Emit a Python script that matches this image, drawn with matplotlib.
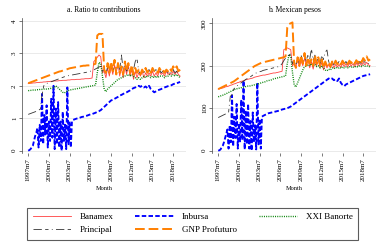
import numpy as np
import matplotlib
matplotlib.use('Agg')
import matplotlib.pyplot as plt

plt.rcParams['font.family'] = ['Liberation Serif', 'DejaVu Serif']

# quarterly grid 1997m7 .. 2019m7 (decimal years)
quarters = np.arange(1997.5, 2019.51, 0.25)
# Inbursa: bimonthly until 2003, quarterly afterwards
inb_t = np.concatenate([np.arange(1997.5, 2003.9, 1 / 6), np.arange(2004.0, 2019.51, 0.25)])

tick_years = [1997.5, 2000.5, 2003.5, 2006.5, 2009.5, 2012.5, 2015.5, 2018.5]
tick_labels = ['1997m7', '2000m7', '2003m7', '2006m7', '2009m7', '2012m7', '2015m7', '2018m7']

# ---- panel a: ratio to contributions ----
banamex_a = [2.07, 2.08,
             2.08, 2.09, 2.09, 2.10, 2.10, 2.11, 2.11, 2.12, 2.12, 2.13, 2.13, 2.14,
             2.14, 2.15, 2.15, 2.15, 2.16, 2.16, 2.17, 2.17, 2.17, 2.18, 2.18, 2.19,
             2.19, 2.19, 2.20, 2.20, 2.20, 2.21, 2.21, 2.22, 2.22, 2.22, 2.23, 2.24,
             2.75, 2.80, 2.88, 2.95, 2.90, 2.40, 2.45, 2.25, 2.55, 2.30, 2.60, 2.35,
             2.65, 2.40, 2.70, 2.30, 2.55, 2.25, 2.60, 2.35, 2.65, 2.30, 2.50, 2.20,
             2.45, 2.25, 2.40, 2.30, 2.45, 2.25, 2.40, 2.30, 2.40, 2.30, 2.45, 2.30,
             2.40, 2.30, 2.45, 2.35, 2.40, 2.30, 2.45, 2.35, 2.40, 2.35, 2.45, 2.35,
             2.45, 2.35, 2.30]
inbursa_a = [0.00, 0.02, 0.05, 0.10, 0.15, 0.30, 0.45, 0.55, 0.70, 0.10, 0.80, 0.30,
             1.75, 0.20, 1.10, 0.50, 1.40, 0.10, 0.90, 0.30, 1.60, 0.40, 2.00, 0.05,
             1.30, 0.20, 1.50, 0.10, 0.90, 0.00, 1.20, 0.30, 0.80, 0.05, 1.95, 0.20,
             0.90, 0.10, 0.90,
             0.95, 0.97, 0.99, 1.00, 1.02, 1.04, 1.05, 1.07, 1.08, 1.10, 1.12, 1.13,
             1.15, 1.17, 1.20, 1.22, 1.25, 1.30, 1.35, 1.40, 1.45, 1.50, 1.55, 1.57,
             1.60, 1.63, 1.66, 1.70, 1.72, 1.75, 1.78, 1.80, 1.83, 1.86, 1.90, 1.93,
             1.95, 1.98, 2.00, 1.97, 2.00, 1.95, 1.98, 1.93, 2.00, 1.90, 1.85, 1.80,
             1.83, 1.86, 1.88, 1.90, 1.93, 1.95, 1.97, 1.99, 2.00, 2.02, 2.05, 2.07,
             2.08, 2.10, 2.12]
banorte_a = [1.85, 1.86,
             1.86, 1.87, 1.87, 1.88, 1.88, 1.89, 1.89, 1.90, 1.90, 1.90, 1.91, 1.92,
             1.93, 1.95, 2.00, 1.95, 1.90, 1.85, 1.80, 1.78, 1.82, 1.85, 1.87, 1.88,
             1.89, 1.90, 1.91, 1.92, 1.93, 1.94, 1.95, 1.96, 1.97, 1.98, 1.99, 2.00,
             2.01, 2.02, 2.40, 2.72, 2.70, 2.30, 1.90, 1.82, 1.90, 1.95, 2.00, 2.05,
             2.10, 2.15, 2.20, 2.22, 2.25, 2.28, 2.30, 2.32, 2.35, 2.30, 2.35, 2.30,
             2.25, 2.20, 2.25, 2.20, 2.25, 2.30, 2.25, 2.30, 2.30, 2.25, 2.30, 2.25,
             2.30, 2.25, 2.30, 2.30, 2.30, 2.25, 2.30, 2.30, 2.35, 2.30, 2.35, 2.30,
             2.35, 2.30, 2.25]
principal_a = [1.12, 1.14,
               1.16, 1.18, 1.20, 1.22, 1.25, 1.28, 1.72, 2.00, 2.05, 2.08, 2.10, 2.12,
               2.14, 2.16, 2.18, 2.20, 2.22, 2.24, 2.26, 2.28, 2.30, 2.31, 2.32, 2.33,
               2.34, 2.35, 2.36, 2.37, 2.38, 2.39, 2.40, 2.41, 2.42, 2.43, 2.45, 2.47,
               2.49, 2.52, 2.55, 2.58, 2.60, 2.45, 2.50, 2.35, 2.60, 2.40, 2.65, 2.45,
               2.60, 2.45, 2.70, 2.50, 2.95, 2.50, 2.65, 2.45, 2.55, 2.45, 2.60, 2.50,
               2.75, 2.85, 2.45, 2.35, 2.50, 2.40, 2.55, 2.45, 2.50, 2.40, 2.50, 2.45,
               2.50, 2.40, 2.50, 2.40, 2.45, 2.40, 2.50, 2.40, 2.45, 2.40, 2.50, 2.40,
               2.45, 2.40, 2.35]
gnp_a = [2.08, 2.10,
         2.12, 2.14, 2.16, 2.18, 2.20, 2.22, 2.24, 2.26, 2.28, 2.30, 2.32, 2.34,
         2.36, 2.38, 2.40, 2.42, 2.44, 2.45, 2.47, 2.49, 2.50, 2.52, 2.54, 2.55,
         2.56, 2.57, 2.58, 2.60, 2.60, 2.61, 2.62, 2.62, 2.63, 2.63, 2.64, 2.65,
         2.66, 2.68, 3.55, 3.60, 3.60, 3.60, 2.50, 2.40, 2.70, 2.40, 2.75, 2.45,
         2.80, 2.35, 2.70, 2.40, 2.60, 2.35, 2.75, 2.45, 2.70, 2.40, 2.65, 2.35,
         2.55, 2.40, 2.50, 2.35, 2.50, 2.40, 2.55, 2.40, 2.50, 2.40, 2.55, 2.45,
         2.50, 2.40, 2.55, 2.45, 2.50, 2.40, 2.50, 2.45, 2.55, 2.45, 2.60, 2.50,
         2.60, 2.45, 2.50]

# ---- panel b: Mexican pesos ----
banamex_b = [145, 146,
             147, 148, 150, 151, 152, 154, 155, 157, 158, 160, 161, 163,
             164, 165, 167, 168, 169, 170, 171, 173, 174, 175, 176, 177,
             178, 178, 179, 180, 181, 182, 183, 183, 184, 185, 186, 187,
             238, 240, 242, 240, 238, 200, 205, 195, 215, 198, 212, 200,
             218, 202, 215, 195, 210, 192, 212, 200, 215, 195, 208, 190,
             205, 195, 203, 195, 205, 195, 203, 197, 203, 196, 205, 198,
             205, 197, 206, 199, 205, 198, 206, 200, 207, 200, 208, 202,
             208, 202, 200]
inbursa_b = [0, 1, 3, 8, 12, 20, 30, 40, 50, 5, 60, 20,
             130, 10, 80, 30, 110, 5, 65, 20, 120, 25, 165, 3,
             95, 15, 110, 5, 70, 0, 90, 20, 60, 3, 160, 15,
             75, 5, 80,
             82, 84, 86, 88, 89, 90, 91, 92, 93, 94, 95, 97,
             98, 99, 100, 102, 104, 107, 110, 113, 116, 119, 122, 125,
             128, 131, 134, 137, 140, 143, 146, 149, 152, 155, 158, 161,
             164, 167, 170, 168, 170, 166, 168, 164, 170, 160, 155, 152,
             156, 158, 160, 162, 164, 166, 168, 170, 172, 174, 176, 177,
             178, 179, 180]
banorte_b = [127, 128,
             130, 131, 133, 135, 137, 139, 141, 143, 145, 146, 147, 148,
             149, 150, 151, 152, 152, 153, 154, 155, 156, 157, 158, 160,
             161, 162, 164, 165, 166, 167, 169, 170, 171, 172, 173, 174,
             175, 176, 205, 226, 222, 185, 155, 150, 160, 170, 180, 190,
             198, 200, 203, 200, 205, 200, 203, 198, 200, 195, 200, 195,
             190, 188, 192, 190, 195, 193, 196, 194, 196, 194, 197, 195,
             197, 195, 198, 196, 198, 196, 199, 197, 200, 198, 201, 199,
             200, 198, 198]
principal_b = [78, 80,
               82, 84, 86, 88, 90, 128, 132, 145, 150, 153, 156, 159,
               162, 165, 168, 170, 172, 175, 178, 181, 183, 184, 186, 187,
               189, 190, 191, 192, 193, 194, 195, 196, 197, 198, 200, 205,
               212, 218, 222, 225, 228, 205, 210, 200, 220, 205, 225, 210,
               225, 210, 228, 215, 240, 212, 225, 210, 220, 205, 225, 215,
               232, 237, 210, 200, 210, 202, 212, 205, 210, 203, 210, 205,
               210, 203, 210, 205, 208, 203, 210, 205, 210, 205, 212, 208,
               210, 205, 205]
gnp_b = [145, 147,
         149, 151, 153, 155, 157, 159, 161, 163, 166, 169, 172, 175,
         178, 181, 184, 187, 190, 193, 196, 199, 201, 203, 205, 207,
         208, 209, 210, 211, 212, 213, 214, 215, 216, 217, 218, 219,
         220, 222, 290, 298, 300, 302, 205, 195, 220, 200, 225, 205,
         230, 200, 220, 205, 215, 200, 225, 205, 220, 200, 215, 195,
         210, 200, 208, 198, 210, 202, 212, 203, 210, 203, 212, 205,
         210, 204, 212, 206, 212, 205, 213, 207, 215, 208, 218, 212,
         222, 212, 215]

styles = {
    'Banamex': dict(color='#ff4040', lw=0.6, ls='-'),
    'Inbursa': dict(color='#0000ff', lw=1.35, ls=(0, (2.4, 1.2))),
    'XXI Banorte': dict(color='#008000', lw=1.0, ls=(0, (0.7, 0.9))),
    'Principal': dict(color='#333333', lw=0.6, ls=(0, (10, 4, 4, 4, 1, 4))),
    'GNP Profuturo': dict(color='#ff7f00', lw=1.4, ls=(0, (5, 2))),
}

fig = plt.figure(figsize=(3.83, 2.48), dpi=100)
ax_a = fig.add_axes([22 / 383, 95 / 248, 164 / 383, 135 / 248])
ax_b = fig.add_axes([212 / 383, 95 / 248, 164 / 383, 135 / 248])

panels = [
    (ax_a, 'a. Ratio to contributions', [banamex_a, inbursa_a, banorte_a, principal_a, gnp_a],
     [0, 1, 2, 3, 4], (-0.07, 4.09)),
    (ax_b, 'b. Mexican pesos', [banamex_b, inbursa_b, banorte_b, principal_b, gnp_b],
     [0, 100, 200, 300], (-5.4, 312.4)),
]
names = ['Banamex', 'Inbursa', 'XXI Banorte', 'Principal', 'GNP Profuturo']

handles = {}
for ax, title, series, yticks, ylim in panels:
    for name, vals in zip(names, series):
        t = inb_t if name == 'Inbursa' else quarters
        ln, = ax.plot(t, vals, label=name, **styles[name])
        handles[name] = ln
    ax.set_xlim(1996.6, 2020.35)
    ax.set_ylim(*ylim)
    ax.set_yticks(yticks)
    ax.set_yticklabels([str(v) for v in yticks], rotation=90, va='center')
    ax.set_xticks(tick_years)
    ax.set_xticklabels(tick_labels, rotation=90)
    ax.tick_params(labelsize=5, length=2, width=0.5, pad=1.5, color='#444444')
    ax.grid(axis='y', color='#e6e6e6', lw=0.6)
    ax.set_axisbelow(True)
    for s in ['top', 'right', 'bottom']:
        ax.spines[s].set_visible(False)
    ax.spines['left'].set_linewidth(0.5)
    ax.spines['left'].set_color('#444444')
    ax.set_title(title, fontsize=5.5, pad=4)
    ax.set_xlabel('Month', fontsize=4.5, labelpad=4)

order = ['Banamex', 'Principal', 'Inbursa', 'GNP Profuturo', 'XXI Banorte']
leg = fig.legend([handles[n] for n in order], order, loc='center', ncol=3,
                 bbox_to_anchor=(192.5 / 383, 1 - 223.7 / 248), fontsize=6.5,
                 handlelength=4.3, columnspacing=2.4, handletextpad=0.9,
                 labelspacing=0.5, frameon=True, fancybox=False, borderpad=0.6,
                 borderaxespad=0)
leg.get_frame().set_edgecolor('#333333')
leg.get_frame().set_linewidth(0.8)

fig.savefig('out.png', dpi=100)
